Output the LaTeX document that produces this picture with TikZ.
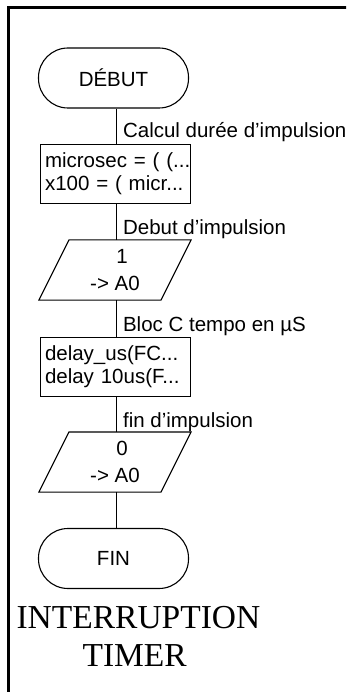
\documentclass[tikz,border=0pt]{standalone}
\usepackage{fontspec}
\setmainfont{Liberation Sans}
\newfontfamily\titlefont{Liberation Serif}
\newcommand\flowfont{\fontsize{20.5}{23}\selectfont}
\begin{document}
\begin{tikzpicture}[x=1pt,y=-1pt,line width=1.1pt,
  term/.style={draw, rounded corners=29.5pt, minimum width=150pt, minimum height=60pt, inner sep=0pt, font=\flowfont},
  proc/.style={draw, text width=141pt, align=left, inner xsep=4.5pt, inner ysep=0pt, minimum height=59pt, font=\flowfont},
  iobox/.style={minimum width=121pt, minimum height=59pt, inner sep=0pt, align=center, font=\fontsize{20.5}{27}\selectfont},
  lbl/.style={anchor=base west, inner sep=0pt, font=\flowfont},
  conn/.style={line width=1.1pt},
  frame/.style={line width=2.6pt}
]
\useasboundingbox (0,0) rectangle (346,692);
\clip (0,0) rectangle (346,692);
\draw[frame] (8.5,710) -- (8.5,7.5) -- (360,7.5);

\coordinate (axis) at (116.5,0);

\node[term] (debut) at (113.5,78) {DÉBUT};
\node[proc] (calc) at (115.5,174) {\mbox{microsec = ( (...}\\\mbox{x100 = ( micr...}};
\node[iobox] (out1) at (115,270) {\hspace*{14pt}1\\-> A0};
\node[proc] (tempo) at (115.5,367) {\mbox{delay\_us(FC...}\\\mbox{delay 10us(F...}};
\node[iobox] (out0) at (115,462) {\hspace*{14pt}0\\-> A0};
\node[term] (fin) at (113.5,558.5) {FIN};

\draw ([xshift=15pt]out1.north west) -- ([xshift=15pt]out1.north east) -- ([xshift=-15pt]out1.south east) -- ([xshift=-15pt]out1.south west) -- cycle;
\draw ([xshift=15pt]out0.north west) -- ([xshift=15pt]out0.north east) -- ([xshift=-15pt]out0.south east) -- ([xshift=-15pt]out0.south west) -- cycle;

\draw[conn] (debut.south -| axis) -- (calc.north -| axis);
\draw[conn] (calc.south -| axis) -- (out1.north -| axis);
\draw[conn] (out1.south -| axis) -- (tempo.north -| axis);
\draw[conn] (tempo.south -| axis) -- (out0.north -| axis);
\draw[conn] (out0.south -| axis) -- (fin.north -| axis);

\node[lbl] (l1) at (122.5,138) {Calcul durée d'impulsion};
\node[lbl] (l2) at (122.5,235) {Debut d'impulsion};
\node[lbl] (l3) at (122.5,331) {Bloc C tempo en µS};
\node[lbl] (l4) at (122.5,427) {fin d'impulsion};

\node[anchor=north west, inner sep=0pt, align=left, font=\titlefont\fontsize{33.5}{38}\selectfont] (title) at (16,606) {INTERRUPTION\\\hspace*{66pt}TIMER};
\end{tikzpicture}
\end{document}
